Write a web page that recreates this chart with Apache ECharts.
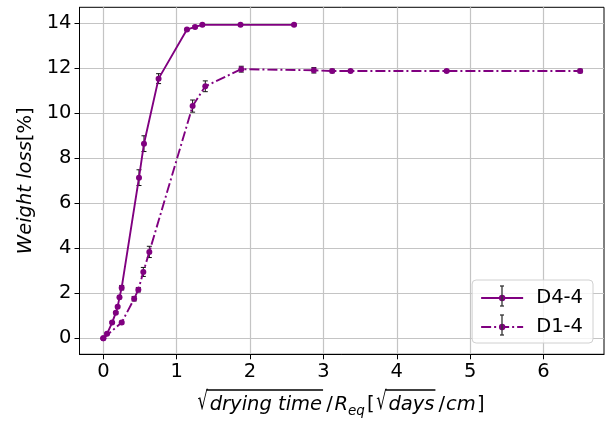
<!DOCTYPE html>
<html><head><meta charset="utf-8">
<script src="https://cdn.jsdelivr.net/npm/echarts@6/dist/echarts.min.js"></script>
<style>html,body{margin:0;padding:0;background:#fff}#c{width:608px;height:421px}</style>
</head><body><div id="c"></div>
<script>
// ---- data ----
const xTicks = [0, 1, 2, 3, 4, 5, 6];
const yTicks = [0, 2, 4, 6, 8, 10, 12, 14];
const seriesNames = ['D4-4', 'D1-4'];
const d44X   = [0, 0.05, 0.12, 0.17, 0.195, 0.22, 0.25, 0.486, 0.554, 0.753, 1.14, 1.25, 1.35, 1.87, 2.60];
const d44Y   = [0, 0.2, 0.7, 1.14, 1.4, 1.82, 2.25, 7.14, 8.65, 11.54, 13.72, 13.84, 13.93, 13.93, 13.93];
const d44Err = [0.02, 0.04, 0.05, 0.05, 0.05, 0.06, 0.1, 0.35, 0.35, 0.22, 0.05, 0.05, 0.04, 0.04, 0.04];
const d14X   = [0, 0.25, 0.42, 0.477, 0.545, 0.627, 1.217, 1.39, 1.88, 2.87, 3.12, 3.37, 4.68, 6.5];
const d14Y   = [0, 0.7, 1.76, 2.16, 2.95, 3.84, 10.32, 11.2, 11.96, 11.91, 11.88, 11.88, 11.88, 11.88];
const d14Err = [0.02, 0.06, 0.1, 0.1, 0.2, 0.25, 0.27, 0.24, 0.13, 0.12, 0.08, 0.06, 0.06, 0.08];

const FAM = "'DejaVu Sans'";
const FS = 19.5;
const PURPLE = '#800080';
const zip = (xs, ys) => xs.map((x, i) => [x, ys[i]]);
const zip3 = (xs, ys, es) => xs.map((x, i) => [x, ys[i], es[i]]);

function errRender(params, api) {
  const x = api.value(0), y = api.value(1), e = api.value(2);
  const t = api.coord([x, y + e]), b = api.coord([x, y - e]);
  const cap = 2.5, st = {stroke: '#111', lineWidth: 1};
  return {type: 'group', children: [
    {type: 'line', shape: {x1: t[0], y1: t[1], x2: b[0], y2: b[1]}, style: st},
    {type: 'line', shape: {x1: t[0] - cap, y1: t[1], x2: t[0] + cap, y2: t[1]}, style: st},
    {type: 'line', shape: {x1: b[0] - cap, y1: b[1], x2: b[0] + cap, y2: b[1]}, style: st}
  ]};
}

// ---- x-axis label built from text pieces ----
const cv = document.createElement('canvas').getContext('2d');
function tw(t, size, it) { cv.font = (it ? 'italic ' : '') + size + 'px ' + FAM; return cv.measureText(t).width; }
const LF = 19.5;
// g = relative spacing weight after each piece
const pieces = [
  {t: '√', s: LF, it: false, rad: true, g: 0.4},
  {t: 'drying time', s: LF, it: true, over: true, g: 1},
  {t: '/', s: LF, it: false, g: 0.4},
  {t: 'R', s: LF, it: true, g: 0},
  {t: 'eq', s: 13.5, it: true, sub: true, g: 0.5},
  {t: '[', s: LF, it: false, g: 0.4},
  {t: '√', s: LF, it: false, rad: true, g: 0.4},
  {t: 'days', s: LF, it: true, over: true, g: 1},
  {t: '/', s: LF, it: false, g: 0.2},
  {t: 'cm', s: LF, it: true, g: 0.3},
  {t: ']', s: LF, it: false, g: 0}
];
const RSX = 0.85, RSY = 1.3;
const targetW = 287;
let totalW = 0, totalG = 0;
pieces.forEach(p => { p.w = tw(p.t, p.s, p.it) * (p.rad ? RSX : 1); totalW += p.w; totalG += p.g; });
const unit = Math.max(0, (targetW - totalW) / totalG);
const baseY = 411.5, overY = 390;
let cx = 341 - targetW / 2;
const xlabelEls = [];
let prevGap = 0;
pieces.forEach(p => {
  const dy = p.sub ? 4.5 : 0;
  xlabelEls.push({type: 'text', x: cx, y: baseY + dy, scaleX: p.rad ? RSX : 1, scaleY: p.rad ? RSY : 1, z: 50,
    style: {text: p.t, x: 0, y: -0.346 * p.s, fontSize: p.s, fontFamily: FAM, fontStyle: p.it ? 'italic' : 'normal',
      fill: '#000', align: 'left', verticalAlign: 'middle'}});
  if (p.over) {
    xlabelEls.push({type: 'line', z: 50, shape: {x1: cx - prevGap - 1.5, y1: overY, x2: cx + p.w + 1, y2: overY},
      style: {stroke: '#000', lineWidth: 1.3}});
  }
  prevGap = p.g * unit;
  cx += p.w + prevGap;
});

// legend error-bar glyphs
const legErr = [296, 325].map(y => ({type: 'group', z: 100, children: [
  {type: 'line', z: 100, shape: {x1: 502, y1: y - 10, x2: 502, y2: y + 10}, style: {stroke: '#333', lineWidth: 1.3}},
  {type: 'line', z: 100, shape: {x1: 500, y1: y - 10, x2: 504, y2: y - 10}, style: {stroke: '#333', lineWidth: 1.3}},
  {type: 'line', z: 100, shape: {x1: 500, y1: y + 10, x2: 504, y2: y + 10}, style: {stroke: '#333', lineWidth: 1.3}}
]}));

const chart = echarts.init(document.getElementById('c'), null, {renderer: 'canvas'});
chart.setOption({
  backgroundColor: '#fff',
  animation: false,
  grid: {left: 79.5, right: 4, top: 7.3, bottom: 66.7, show: true, borderColor: '#000', borderWidth: 1, containLabel: false},
  xAxis: {
    type: 'value', min: -0.325, max: 6.825,
    axisLine: {show: true, onZero: false, lineStyle: {color: '#000', width: 1}},
    axisTick: {show: true, length: 5, customValues: xTicks, lineStyle: {color: '#000'}},
    axisLabel: {customValues: xTicks, fontSize: FS, fontFamily: FAM, color: '#000', margin: 8},
    splitLine: {show: true, lineStyle: {color: '#c4c4c4', width: 1.2}}
  },
  yAxis: {
    type: 'value', min: -0.71, max: 14.71,
    name: '{i|Weight loss}[%]', nameLocation: 'middle', nameGap: 44,
    nameTextStyle: {fontSize: FS, fontFamily: FAM, color: '#000',
      rich: {i: {fontSize: FS, fontFamily: FAM, fontStyle: 'italic', color: '#000'}}},
    axisLine: {show: true, onZero: false, lineStyle: {color: '#000', width: 1}},
    axisTick: {show: true, length: 5, customValues: yTicks, lineStyle: {color: '#000'}},
    axisLabel: {customValues: yTicks, fontSize: FS, fontFamily: FAM, color: '#000', margin: 8},
    splitLine: {show: true, lineStyle: {color: '#c4c4c4', width: 1.2}}
  },
  legend: {
    data: seriesNames, orient: 'vertical', right: 15, bottom: 78,
    itemWidth: 42, itemHeight: 8, itemGap: 9,
    padding: [8, 10, 6, 8],
    backgroundColor: 'rgba(255,255,255,0.8)', borderColor: '#d0d0d0', borderWidth: 1, borderRadius: 4,
    textStyle: {fontSize: FS, fontFamily: FAM, color: '#000', padding: [0, 0, 0, 8]}
  },
  graphic: xlabelEls.concat(legErr),
  series: [
    {type: 'custom', name: 'err44', renderItem: errRender, data: zip3(d44X, d44Y, d44Err), encode: {x: 0, y: 1}, z: 1, silent: true},
    {type: 'custom', name: 'err14', renderItem: errRender, data: zip3(d14X, d14Y, d14Err), encode: {x: 0, y: 1}, z: 1, silent: true},
    {type: 'line', name: seriesNames[0], data: zip(d44X, d44Y), color: PURPLE, z: 3,
      symbol: 'circle', symbolSize: 6, showAllSymbol: true,
      lineStyle: {color: PURPLE, width: 1.9}, itemStyle: {color: PURPLE}},
    {type: 'line', name: seriesNames[1], data: zip(d14X, d14Y), color: PURPLE, z: 3,
      symbol: 'circle', symbolSize: 6, showAllSymbol: true,
      lineStyle: {color: PURPLE, width: 1.9, type: [10, 3, 2, 3]}, itemStyle: {color: PURPLE}}
  ]
});
</script></body></html>
